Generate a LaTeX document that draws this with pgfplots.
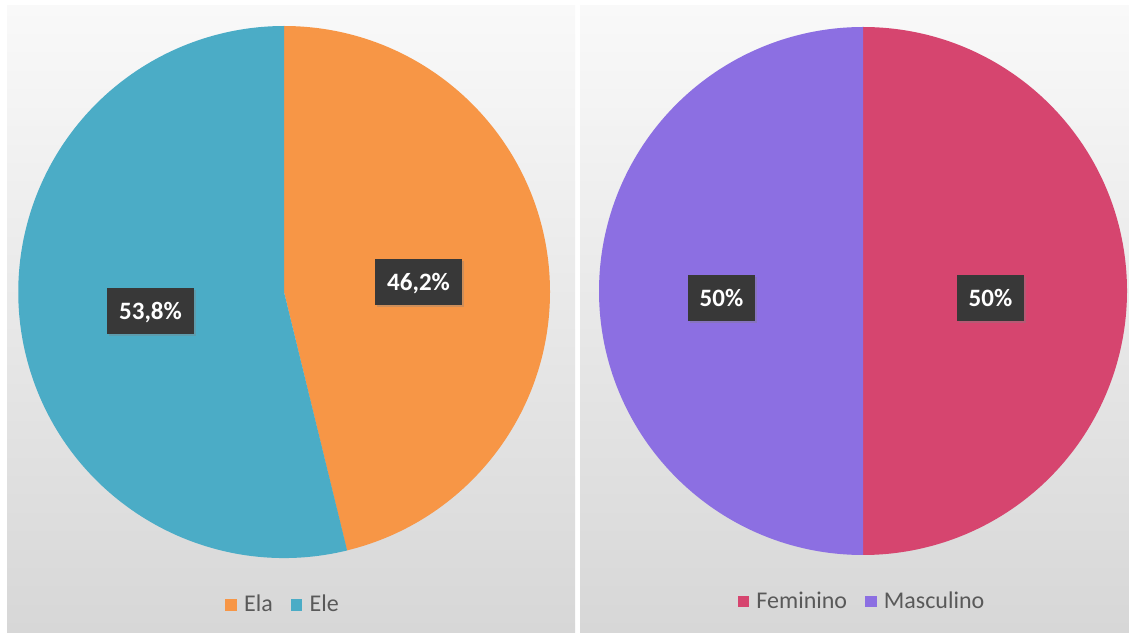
\documentclass[border=0pt]{standalone}
\usepackage{pgfplots}
\usepackage{pgfplotstable}
\pgfplotsset{compat=1.18}
\usetikzlibrary{shadows}
\usepackage{fontspec}
\setmainfont{Carlito}
\definecolor{cOrange}{HTML}{F79646}
\definecolor{cBlue}{HTML}{4BACC6}
\definecolor{cPink}{HTML}{D6456F}
\definecolor{cPurple}{HTML}{8C6FE2}
\definecolor{labbg}{HTML}{383838}
\definecolor{legtext}{HTML}{595959}
\definecolor{panTop}{HTML}{F9F9F9}
\definecolor{panBot}{HTML}{D7D7D7}

\pgfplotstableread{
label value
Ela 46.2
Ele 53.8
}\pronoun
\pgfplotstableread{
label value
Feminino 50
Masculino 50
}\genero

\pgfplotstablegetelem{0}{value}\of\pronoun \let\pa\pgfplotsretval
\pgfplotstablegetelem{1}{value}\of\pronoun \let\pb\pgfplotsretval
\pgfplotstablegetelem{0}{value}\of\genero \let\ga\pgfplotsretval
\pgfplotstablegetelem{1}{value}\of\genero \let\gb\pgfplotsretval
\pgfmathsetmacro{\paEnd}{90-3.6*\pa}
\pgfmathsetmacro{\pbEnd}{\paEnd-3.6*\pb}
\pgfmathsetmacro{\gaEnd}{90-3.6*\ga}
\pgfmathsetmacro{\gbEnd}{\gaEnd-3.6*\gb}
\pgfmathsetmacro{\paX}{cos(\paEnd)}
\pgfmathsetmacro{\paY}{sin(\paEnd)}
\pgfmathsetmacro{\gaX}{cos(\gaEnd)}
\pgfmathsetmacro{\gaY}{sin(\gaEnd)}

\pgfplotsset{
  pieaxis/.style={
    hide axis, scale only axis,
    xmin=-1, xmax=1, ymin=-1, ymax=1,
    anchor=center, clip=false,
    legend columns=2,
    legend cell align=left,
    legend style={draw=none, fill=none, at={(0.5,-0.088)}, anchor=center,
      font=\fontsize{12}{14}\selectfont, text=legtext,
      /tikz/every even column/.append style={column sep=7pt},
      /tikz/every odd column/.append style={column sep=0pt}},
    legend image code/.code={\fill[##1] (0pt,-2.6pt) rectangle (5.2pt,2.6pt); \path (7pt,0pt);},
  },
}
\tikzset{
  lab/.style={fill=labbg, text=white, font=\bfseries\fontsize{12.5}{14}\selectfont,
    inner xsep=6pt, minimum height=23pt, text height=9pt, text depth=0.5pt,
    drop shadow={opacity=0.35, shadow xshift=1pt, shadow yshift=-1pt}},
}

\begin{document}
\begin{tikzpicture}
\fill[white] (0pt,0pt) rectangle (564.5pt,316pt);
\shade[top color=panTop, bottom color=panBot] (3.5pt,0pt) rectangle (287.5pt,313pt);
\shade[top color=panTop, bottom color=panBot] (290pt,0pt) rectangle (564.5pt,313pt);

\begin{axis}[pieaxis, width=267pt, height=266pt, at={(142pt,170pt)}]
  \fill[cOrange] (axis cs:0,0) -- (axis cs:0,1) arc[start angle=90, end angle=\paEnd, radius=133pt] -- cycle;
  \fill[cBlue] (axis cs:0,0) -- (axis cs:\paX,\paY) arc[start angle=\paEnd, end angle=\pbEnd, radius=133pt] -- cycle;
  \addlegendimage{cOrange}\addlegendentry{Ela}
  \addlegendimage{cBlue}\addlegendentry{Ele}
  \node[lab] at (axis cs:0.504,0.038) {46,2\%};
  \node[lab] at (axis cs:-0.50,-0.07) {53,8\%};
\end{axis}

\begin{axis}[pieaxis, width=264pt, height=264pt, at={(431.5pt,170.5pt)}]
  \fill[cPink] (axis cs:0,0) -- (axis cs:0,1) arc[start angle=90, end angle=\gaEnd, radius=132pt] -- cycle;
  \fill[cPurple] (axis cs:0,0) -- (axis cs:\gaX,\gaY) arc[start angle=\gaEnd, end angle=\gbEnd, radius=132pt] -- cycle;
  \addlegendimage{cPink}\addlegendentry{Feminino}
  \addlegendimage{cPurple}\addlegendentry{Masculino}
  \node[lab] at (axis cs:0.483,-0.027) {50\%};
  \node[lab] at (axis cs:-0.536,-0.027) {50\%};
\end{axis}
\end{tikzpicture}
\end{document}
